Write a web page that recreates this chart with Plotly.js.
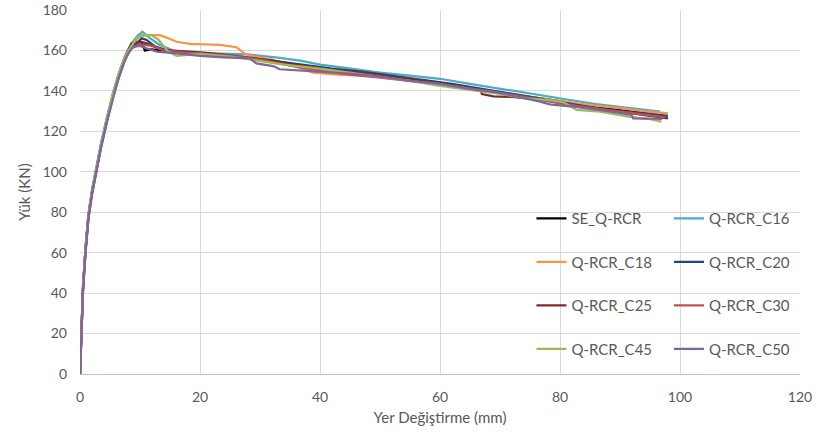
<!DOCTYPE html>
<html>
<head>
<meta charset="utf-8">
<script src="https://cdn.plot.ly/plotly-3.0.1.min.js"></script>
<style>html,body{margin:0;padding:0;background:#fff;}#chart{width:819px;height:438px;}</style>
</head>
<body>
<div id="chart"></div>
<script>
// Series names
const names = ["SE_Q-RCR","Q-RCR_C16","Q-RCR_C18","Q-RCR_C20","Q-RCR_C25","Q-RCR_C30","Q-RCR_C45","Q-RCR_C50"];
const colors = ["#000000","#4bacc6","#f79646","#1f497d","#7b2c2a","#c0504d","#9bbb59","#8064a2"];

// Displacement (mm) / Load (kN)
const x_SE = [0,0.2,0.5,0.9,1.4,2.0,2.7,3.5,4.5,5.5,6.5,7.5,8.5,9.5,10.3,10.8,12,14,17,20,25,30,35,40,45,50,55,60,65,70,75,80,85,90,95,97.5];
const y_SE = [0,22,43,61,78,90,101,113,126,138,148,156,161,164,164,160,160.5,159.5,158.5,158,157,155.5,153,151,149.5,148,146,144,141.5,139,137,135,132.5,130.5,128.5,127.5];

const x_C16 = [0,0.2,0.5,0.9,1.4,2.0,2.7,3.5,4.5,5.5,6.5,7.5,8.5,9.5,10.4,11.7,13.3,16,18.3,22,28,33,36.7,40,43.3,50,55,60,65,70,75,81.7,86,90,94,96.7];
const y_C16 = [0,23,44,62,79,91,102,114,127,139,149,157,163,167,169.3,166,162.7,159.4,159.4,158.5,158,156.5,155,153,151.8,149,147.5,146,143.5,141,138.5,135.5,133.5,132,130.5,129.7];

const x_C18 = [0,0.2,0.5,0.9,1.4,2.0,2.7,3.5,4.5,5.5,6.5,7.5,8.5,9.7,11.1,13.3,14.7,16.1,18.3,21.7,23.3,26.1,27.5,29,32,35,38.9,43.3,48,52,56,60,65,70,75,80,85,90,94,98];
const y_C18 = [0,21,41,59,77,89,100,112,125,137,147,155,161,166.8,167.6,167.6,166,164.3,163.2,163,162.7,161.6,158.3,157,155.5,153,149,147.9,147.5,146.5,145,144,141.5,139.5,137,135,133,131.5,130,128.9];

const x_C20 = [0,0.2,0.5,0.9,1.4,2.0,2.7,3.5,4.5,5.5,6.5,7.5,8.5,9.5,10.3,11.1,12.5,15,18,22,27,32,37,42,47,52,57,62,67,72,77,82,87,92,98];
const y_C20 = [0,22,42,61,78,90,101,113,126,138,148,156,161,164,166,165.2,162,159.5,158.5,157.5,156.5,155,153,151,149.5,147.5,145.5,143.5,141,138.5,136,133.5,131,129.5,127.7];

const x_C25 = [0,0.2,0.5,0.9,1.4,2.0,2.7,3.5,4.5,5.5,6.5,7.5,8.6,10,11.1,13,15,17.8,22,27,32,37,42,47,52,57,62,66.7,67,68.9,72,77,82,87,92,95,98];
const y_C25 = [0,22,42,60,78,90,101,113,126,138,148,157,163.5,164.3,163.5,161,160,159.4,158.5,157,155,152.5,150.5,149,147,145,143,140.5,138.4,137.3,137,135.5,133,131,129,127.5,126.4];

const x_C30 = [0,0.2,0.5,0.9,1.4,2.0,2.7,3.5,4.5,5.5,6.5,7.5,8.5,10,12.2,14,17,20,25,30,35,40,45,50,55,58.3,63,68,73,78,83,88,93,97.5];
const y_C30 = [0,21,42,60,77,89,100,112,125,137,147,156,161,163,162.2,160,159,158.5,157.5,155.5,152.5,150,148,146.5,145,143.8,142,140,137.5,135,132.5,130.5,128.5,127];

const x_C45 = [0,0.2,0.5,0.9,1.4,2.0,2.7,3.5,4.5,5.5,6.5,7.5,8.5,9.4,10.3,11.9,13.1,14.7,16.1,20,25,29.4,34,40,45,50,55,60,65,70,74.4,78,80.5,82.8,86.7,91.7,95,96.9];
const y_C45 = [0,22,43,61,79,91,102,114,127,139,149,157,162,165.5,167.6,167.6,165.2,159.4,157.3,158.3,157,155,153,151,149,147,145,142.5,140.5,138.5,136.3,135.5,134.5,130.6,129.7,127.2,126,124.8];

const x_C50 = [0,0.2,0.5,0.9,1.4,2.0,2.7,3.5,4.5,5.5,6.3,7.2,8.0,8.9,10,11.1,12.8,16.1,20,24,28.3,29.4,32.2,33.3,36.7,40,45,50,55,60,65,70,74,76.7,78.3,83,88,91.9,92.2,95,97];
const y_C50 = [0,21,41,59,77,89,100,112,125,136,145,153,158.5,161.9,162.2,161,159.4,158.6,157.3,156.6,156.1,153.6,152.3,150.7,150,149.5,148.5,147,145,143.5,141,139,136.5,134.7,133.3,132,130,128.1,126.4,126.3,126.2];

const xs = [x_SE,x_C16,x_C18,x_C20,x_C25,x_C30,x_C45,x_C50];
const ys = [y_SE,y_C16,y_C18,y_C20,y_C25,y_C30,y_C45,y_C50];

// Axis ticks
const xTicks = [0,20,40,60,80,100,120];
const yTicks = [0,20,40,60,80,100,120,140,160,180];

const FONT = "Lato, 'Open Sans', sans-serif";
const TXT = "#595959";

// Excel fills legend row by row: left column = even indices, right column = odd
const traces = names.map((n,i) => ({
  type: "scatter", mode: "lines", name: n,
  x: xs[i], y: ys[i],
  line: {color: colors[i], width: 2.25},
  legend: (i % 2 === 0) ? "legend" : "legend2",
  legendgroup: "g" + i
}));

const legendBase = {
  y: 0.472, xanchor: "left", yanchor: "top",
  bgcolor: "rgba(0,0,0,0)", borderwidth: 0,
  font: {family: FONT, size: 15, color: TXT},
  tracegroupgap: 21, traceorder: "grouped"
};

const layout = {
  width: 819, height: 438,
  margin: {l: 80, r: 19, t: 10, b: 64},
  paper_bgcolor: "#ffffff", plot_bgcolor: "#ffffff",
  font: {family: FONT, size: 14, color: TXT},
  showlegend: true,
  xaxis: {
    range: [0, 120], tickvals: xTicks, ticktext: xTicks.map(String),
    showgrid: true, gridcolor: "#d9d9d9", gridwidth: 1,
    zeroline: false, showline: true, linecolor: "#bfbfbf", linewidth: 1,
    ticks: "", ticklabelstandoff: 10,
    tickfont: {family: FONT, size: 14, color: TXT},
    title: {text: "Yer Değiştirme (mm)", font: {family: FONT, size: 15, color: TXT}, standoff: 8}
  },
  yaxis: {
    range: [0, 180], tickvals: yTicks, ticktext: yTicks.map(String),
    showgrid: true, gridcolor: "#d9d9d9", gridwidth: 1,
    zeroline: false, showline: false,
    ticks: "", ticklabelstandoff: 12,
    tickfont: {family: FONT, size: 14, color: TXT},
    title: {text: "Yük (KN)", font: {family: FONT, size: 15, color: TXT}, standoff: 8}
  },
  legend: Object.assign({}, legendBase, {x: 0.627}),
  legend2: Object.assign({}, legendBase, {x: 0.818})
};
Plotly.newPlot("chart", traces, layout, {staticPlot: true, displayModeBar: false});
</script>
</body>
</html>
